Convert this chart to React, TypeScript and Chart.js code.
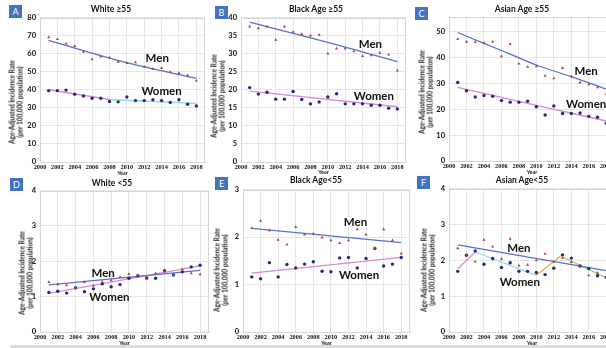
import React, { useEffect, useRef } from 'react';
import { Chart, registerables } from 'chart.js';
Chart.register(...registerables);

// ---------- data ----------
const years = [2001, 2002, 2003, 2004, 2005, 2006, 2007, 2008, 2009, 2010, 2011, 2012, 2013, 2014, 2015, 2016, 2017, 2018];
const xTicks = [2000, 2002, 2004, 2006, 2008, 2010, 2012, 2014, 2016, 2018];

const menA = [69, 68, 65.5, 64.2, 61, 56.8, 58.4, 57.8, 55.5, 54.8, 55.2, 52.7, 51.4, 52, 49.8, 49.2, 48, 45];
const womenA = [39.5, 39.5, 39.8, 37.5, 36.5, 35.3, 35.3, 33.5, 33.3, 36, 34, 34, 34.5, 34, 33, 34.5, 32, 31];
const trendMenA = [[2001, 67.3], [2010, 55], [2018, 46.3]];
const trendWomenA1 = [[2001, 40], [2008, 34.6]];
const trendWomenA2 = [[2008, 34.6], [2018, 32.4]];
const yTicksA = [0, 10, 20, 30, 40, 50, 60, 70, 80];

const menB = [37.5, 37, 37.5, 33.8, 37.5, 36, 35.4, 35, 35.2, 30, 31.4, 31.4, 30.6, 29.3, 29.5, 30.2, 29.7, 25.3];
const womenB = [20.6, 18.8, 19.3, 17.4, 17.4, 19.5, 17.3, 16.1, 16.6, 18, 18.9, 16.1, 16.1, 16.1, 15.7, 15.7, 14.9, 14.7];
const trendMenB = [[2001, 38.7], [2010, 33.1], [2018, 27.8]];
const trendWomenB = [[2001, 19.6], [2018, 15.3]];
const yTicksB = [0, 5, 10, 15, 20, 25, 30, 35, 40];

const menC = [47.2, 46.2, 46.2, 45.7, 46.2, 40.6, 45.3, 37.7, 36.5, 36.7, 33, 32, 36, 32.7, 30.4, 29.7, 28.5, 26];
const womenC = [30.4, 27.2, 24.8, 25.4, 25.1, 23.4, 22.8, 22.8, 23.2, 21, 17.8, 21.3, 18.4, 18.4, 18.6, 17.3, 17, 14.6];
const trendMenC = [[2001, 49.8], [2004, 45.6], [2007, 41.4], [2010, 37.2], [2014, 32.7], [2018, 27.9]];
const trendWomenC = [[2001, 28.5], [2010, 21.6], [2018, 15.5]];
const yTicksC = [0, 10, 20, 30, 40, 50];

const menD = [1.41, 1.35, 1.32, 1.25, 1.41, 1.31, 1.42, 1.46, 1.55, 1.64, 1.61, 1.5, 1.66, 1.73, 1.61, 1.77, 1.66, 1.63];
const womenD = [1.12, 1.15, 1.1, 1.25, 1.14, 1.22, 1.36, 1.28, 1.34, 1.52, 1.59, 1.53, 1.52, 1.73, 1.61, 1.7, 1.84, 1.89];
const trendMenD = [[2001, 1.33], [2018, 1.74]];
const trendWomenD = [[2001, 1.09], [2018, 1.87]];
const yTicksD = [0, 1, 2, 3, 4];

const menE = [2.19, 2.34, 2.14, 1.94, 1.84, 2.21, 2.05, 2.07, 1.99, 1.93, 1.87, 1.93, 2.16, 2.05, 1.77, 2.16, 1.93, 1.65];
const womenE = [1.16, 1.12, 1.46, 1.16, 1.42, 1.35, 1.43, 1.48, 1.28, 1.27, 1.56, 1.57, 1.35, 1.55, 1.76, 1.39, 1.43, 1.57];
const trendMenE = [[2001, 2.18], [2018, 1.88]];
const trendWomenE = [[2001, 1.24], [2018, 1.57]];
const yTicksE = [0, 1, 2, 3];

const menF = [2.33, 2.12, 1.96, 2.57, 2.38, 2.04, 2.6, 1.85, 1.87, 2.0, 2.18, 1.96, 2.07, 1.95, 1.83, 1.58, 1.65, 1.51];
const womenF = [1.69, 2.14, 2.26, 1.89, 2.05, 1.8, 1.93, 1.69, 1.69, 1.66, 1.6, 1.78, 2.15, 2.06, 1.84, 1.77, 1.57, 1.53];
const trendMenF = [[2001, 2.43], [2018, 1.71]];
const trendWomenF1 = [[2001, 1.76], [2003, 2.23]];
const trendWomenF2 = [[2003, 2.23], [2010, 1.58]];
const trendWomenF3 = [[2010, 1.58], [2013, 2.16]];
const trendWomenF4 = [[2013, 2.09], [2018, 1.51]];
const yTicksF = [0, 1, 2, 3, 4];

const titles = ['White \u226555', 'Black Age \u226555', 'Asian Age \u226555', 'White <55', 'Black Age<55', 'Asian Age<55'];
const letters = ['A', 'B', 'C', 'D', 'E', 'F'];
const yMax = [80, 40, 56, 4, 3, 4];
const yTicksAll = [yTicksA, yTicksB, yTicksC, yTicksD, yTicksE, yTicksF];
const yTitle1 = 'Age-Adjusted Incidence Rate';
const yTitle2 = '(per 100,000 population)';
const xTitle = 'Year';
const menLabel = 'Men';
const womenLabel = 'Women';

// ---------- styles / layout ----------
const FONT = 'Lato, "Open Sans", sans-serif';
const C_MEN_PT = '#b0413e';
const C_WOMEN_PT = '#262a7a';
const C_MEN_LINE = '#5a6fd0';
const C_WOMEN_LINE = '#d68ad6';
const C_CYAN = '#8fdde8';
const C_ORANGE = '#f2a55a';
const C_GREEN = '#9ad46c';

const PAD_L = 30, PAD_R = 4, PAD_T = 6, PAD_B = 12;

const layouts = [
  { L: 40, T: 15, R: 205, B: 162, box: [9, 5], title: [111, 9], ytitle: [16, 102], year: 173 },
  { L: 241, T: 15, R: 406, B: 162, box: [215, 6], title: [316, 9], ytitle: [218, 96], year: 172 },
  { L: 449, T: 14, R: 615, B: 161, box: [415, 7], title: [522, 8.5], ytitle: [426, 92], year: 172 },
  { L: 40, T: 188, R: 209, B: 332, box: [10, 178], title: [112, 183], ytitle: [26, 273], year: 343 },
  { L: 243, T: 187, R: 410, B: 332, box: [215, 177], title: [316, 180], ytitle: [221, 270], year: 343 },
  { L: 449, T: 186, R: 615, B: 332, box: [417, 176], title: [522, 179.5], ytitle: [428, 270], year: 343 },
];

const labelPos = [
  { men: [2013.5, 57.4], women: [2014, 39.3] },
  { men: [2014.9, 32.6], women: [2015.3, 18.3] },
  { men: [2015.7, 34.9], women: [2015.7, 21.9] },
  { men: [2007.1, 1.66], women: [2007.8, 0.99] },
  { men: [2012.8, 2.32], women: [2013.2, 1.2] },
  { men: [2008, 2.33], women: [2008.1, 1.38] },
];

const pts = (ys: number[]) => years.map((x, i) => ({ x, y: ys[i] }));
const tr = (p: number[][]) => p.map(([x, y]) => ({ x, y }));

function lineDs(p: number[][], color: string, curved = false) {
  return {
    type: 'line',
    data: tr(p),
    borderColor: color,
    borderWidth: 1.3,
    pointRadius: 0,
    fill: false,
    tension: 0,
    cubicInterpolationMode: curved ? 'monotone' : 'default',
  };
}
function menDs(ys: number[]) {
  return { type: 'scatter', data: pts(ys), pointStyle: 'triangle', pointRadius: 1.8, backgroundColor: C_MEN_PT, borderColor: C_MEN_PT, borderWidth: 0 };
}
function womenDs(ys: number[]) {
  return { type: 'scatter', data: pts(ys), pointStyle: 'circle', pointRadius: 1.7, backgroundColor: C_WOMEN_PT, borderColor: C_WOMEN_PT, borderWidth: 0 };
}

const panelDatasets = [
  [menDs(menA), womenDs(womenA), lineDs(trendMenA, C_MEN_LINE, true), lineDs(trendWomenA1, C_WOMEN_LINE), lineDs(trendWomenA2, C_CYAN)],
  [menDs(menB), womenDs(womenB), lineDs(trendMenB, C_MEN_LINE, true), lineDs(trendWomenB, C_WOMEN_LINE)],
  [menDs(menC), womenDs(womenC), lineDs(trendMenC, C_MEN_LINE, true), lineDs(trendWomenC, C_WOMEN_LINE, true)],
  [menDs(menD), womenDs(womenD), lineDs(trendMenD, C_MEN_LINE), lineDs(trendWomenD, C_WOMEN_LINE)],
  [menDs(menE), womenDs(womenE), lineDs(trendMenE, C_MEN_LINE), lineDs(trendWomenE, C_WOMEN_LINE)],
  [menDs(menF), womenDs(womenF), lineDs(trendMenF, C_MEN_LINE), lineDs(trendWomenF1, C_WOMEN_LINE), lineDs(trendWomenF2, C_CYAN), lineDs(trendWomenF3, C_ORANGE), lineDs(trendWomenF4, C_GREEN)],
];

const framePlugin = {
  id: 'frame',
  beforeDatasetsDraw(chart: any) {
    const { ctx, chartArea } = chart;
    const { left, top, right, bottom } = chartArea;
    ctx.save();
    ctx.strokeStyle = '#d6d6d6';
    ctx.lineWidth = 1;
    ctx.strokeRect(Math.round(left) + 0.5, Math.round(top) + 0.5, Math.round(right - left) - 1, Math.round(bottom - top) - 1);
    ctx.restore();
  },
};

function Panel({ idx }: { idx: number }) {
  const ref = useRef<HTMLCanvasElement>(null);
  const lay = layouts[idx];
  const w = PAD_L + (lay.R - lay.L) + PAD_R;
  const h = PAD_T + (lay.B - lay.T) + PAD_B;

  useEffect(() => {
    const lp = labelPos[idx];
    const textPlugin = {
      id: 'sexLabels',
      afterDatasetsDraw(chart: any) {
        const { ctx, scales } = chart;
        ctx.save();
        ctx.font = `bold 11.5px ${FONT}`;
        ctx.fillStyle = '#111';
        ctx.textAlign = 'center';
        ctx.textBaseline = 'middle';
        ctx.fillText(menLabel, scales.x.getPixelForValue(lp.men[0]), scales.y.getPixelForValue(lp.men[1]));
        ctx.fillText(womenLabel, scales.x.getPixelForValue(lp.women[0]), scales.y.getPixelForValue(lp.women[1]));
        ctx.restore();
      },
    };
    const yT = yTicksAll[idx];
    const chart = new Chart(ref.current as HTMLCanvasElement, {
      type: 'scatter',
      data: { datasets: panelDatasets[idx] as any },
      options: {
        animation: false,
        responsive: false,
        maintainAspectRatio: false,
        layout: { padding: { top: PAD_T, right: PAD_R, left: 0, bottom: 0 } },
        plugins: { legend: { display: false }, tooltip: { enabled: false }, title: { display: false } },
        scales: {
          x: {
            type: 'linear',
            min: 2000,
            max: 2019,
            afterBuildTicks: (s: any) => { s.ticks = xTicks.map((value) => ({ value })); },
            afterFit: (s: any) => { s.height = PAD_B; },
            ticks: { autoSkip: false, maxRotation: 0, padding: 2, color: '#111', font: { family: '"Liberation Serif", serif', size: 6.3, weight: 'bold' }, callback: (v: any) => String(v) },
            grid: { color: '#e6e6e6', drawTicks: false },
            border: { color: '#d6d6d6' },
          },
          y: {
            min: 0,
            max: yMax[idx],
            afterBuildTicks: (s: any) => { s.ticks = yT.map((value) => ({ value })); },
            afterFit: (s: any) => { s.width = PAD_L; },
            ticks: { padding: 4, color: '#111', font: { family: FONT, size: 7.5, weight: 'bold' }, callback: (v: any) => String(v) },
            grid: { color: '#e6e6e6', drawTicks: false },
            border: { color: '#d6d6d6' },
          },
        },
      } as any,
      plugins: [framePlugin, textPlugin],
    });
    return () => chart.destroy();
  }, [idx]);

  const cx = (lay.L + lay.R) / 2;
  return (
    <>
      <canvas
        ref={ref}
        width={w}
        height={h}
        style={{ position: 'absolute', left: lay.L - PAD_L, top: lay.T - PAD_T, width: w, height: h }}
      />
      <div style={{ position: 'absolute', left: lay.box[0], top: lay.box[1], width: 13, height: 13, background: '#4472c4', color: '#fff', font: `9px ${FONT}`, lineHeight: '13px', textAlign: 'center' }}>{letters[idx]}</div>
      <div style={{ position: 'absolute', left: lay.title[0], top: lay.title[1], transform: 'translate(-50%,-50%)', whiteSpace: 'nowrap', font: `bold 8.5px ${FONT}`, color: '#111' }}>{titles[idx]}</div>
      <div style={{ position: 'absolute', left: lay.ytitle[0], top: lay.ytitle[1], transform: 'translate(-50%,-50%) rotate(-90deg)', whiteSpace: 'nowrap', font: `bold 6.5px ${FONT}`, lineHeight: '7.5px', textAlign: 'center', color: '#222' }}>
        {yTitle1}<br />{yTitle2}
      </div>
      <div style={{ position: 'absolute', left: cx, top: lay.year, transform: 'translate(-50%,-50%)', whiteSpace: 'nowrap', font: `bold 5.5px ${FONT}`, color: '#222' }}>{xTitle}</div>
    </>
  );
}

export default function App() {
  return (
    <div style={{ position: 'absolute', left: 0, top: 0, width: 606, height: 348, overflow: 'hidden', background: '#fff' }}>
      {[0, 1, 2, 3, 4, 5].map((i) => <Panel key={i} idx={i} />)}
      <div style={{ position: 'absolute', left: 10, top: 345, width: 596, height: 3, background: '#dcdcdc' }} />
    </div>
  );
}
